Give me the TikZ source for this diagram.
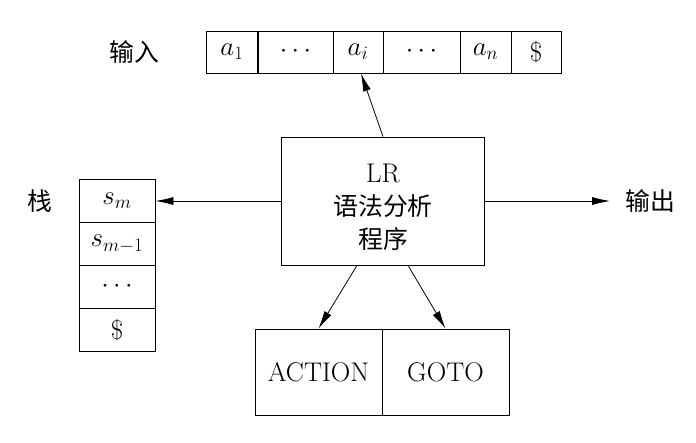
\RequirePackage{fix-cm}
\documentclass[tikz,border=0pt]{standalone}
\usepackage{fontspec}
\newfontfamily\cjk[Scale=0.92]{Noto Sans CJK SC}
\usetikzlibrary{arrows.meta}
\tikzset{
  cell/.style={draw, line width=0.8pt, inner sep=0pt, minimum height=42pt},
  arr/.style={line width=0.8pt, -{Latex[length=18pt,width=8pt]}},
}
\begin{document}
\begin{tikzpicture}[x=1pt,y=1pt,font=\fontsize{27}{35}\selectfont]
\useasboundingbox (0,0) rectangle (696,442);
% input tape
\node[cell,minimum width=52pt] (a1) at (232,390) {$a_1$};
\node[cell,minimum width=76pt] (d1) at (295.5,390) {$\cdots$};
\node[cell,minimum width=50pt] (ai) at (358,390) {$a_i$};
\node[cell,minimum width=77pt] (d2) at (421.5,390) {$\cdots$};
\node[cell,minimum width=51pt] (an) at (485.5,390) {$a_n$};
\node[cell,minimum width=50pt] (end) at (536,390) {\$};
\node (inlbl) at (134,390) {\cjk 输入};
% stack
\node[cell,minimum width=76pt,minimum height=43pt] (sm) at (117,241) {$s_m$};
\node[cell,minimum width=76pt,minimum height=43pt] (sm1) at (117,198) {$s_{m-1}$};
\node[cell,minimum width=76pt,minimum height=43pt] (sdots) at (117,155) {$\cdots$};
\node[cell,minimum width=76pt,minimum height=43pt] (sbot) at (117,112) {\$};
\node (stklbl) at (40,241) {\cjk 栈};
% parser
\node[cell,minimum width=203pt,minimum height=128pt] (lr) at (383,241) {};
\node[align=center,font=\fontsize{27}{33}\selectfont] (lrtxt) at (383,235)
  {LR\\{\cjk 语法分析}\\{\cjk 程序}};
% table
\node[cell,minimum width=127pt,minimum height=86pt] (act) at (318.5,70) {ACTION};
\node[cell,minimum width=127pt,minimum height=86pt] (goto) at (445.5,70) {GOTO};
% output
\coordinate (outtip) at (610,241);
\node (outlbl) at (650,241) {\cjk 输出};
% arrows
\draw[arr] (lr.north) -- ([xshift=3pt]ai.south);
\draw[arr] (lr.west) -- (sm.east);
\draw[arr] (lr.east) -- (outtip);
\draw[arr] ([xshift=-26pt]lr.south) -- (act.north);
\draw[arr] ([xshift=25pt]lr.south) -- (goto.north);
\end{tikzpicture}
\end{document}
